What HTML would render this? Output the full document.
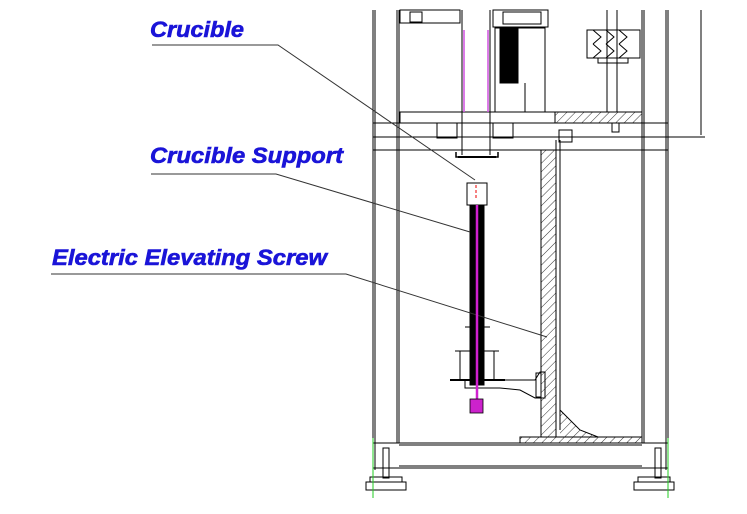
<!DOCTYPE html>
<html><head><meta charset="utf-8"><style>
html,body{margin:0;padding:0;background:#fff;}
svg{display:block;}
text{font-family:"Liberation Sans",Arial,sans-serif;font-weight:bold;font-style:italic;fill:#1a14d8;stroke:#1a14d8;stroke-width:0.6;font-size:22px;}
</style></head><body>
<svg width="747" height="514" viewBox="0 0 747 514" xmlns="http://www.w3.org/2000/svg">
<defs>
<pattern id="h" width="6" height="6" patternUnits="userSpaceOnUse" patternTransform="rotate(45)">
<line x1="0" y1="0" x2="0" y2="6" stroke="#000" stroke-width="0.8"/></pattern>
</defs>
<rect width="747" height="514" fill="#fff"/>
<g stroke="#000" fill="none" stroke-width="1">
<!-- posts -->
<line x1="373" y1="10" x2="373" y2="470"/><line x1="375" y1="10" x2="375" y2="470"/>
<line x1="397" y1="10" x2="397" y2="443"/><line x1="399" y1="10" x2="399" y2="443"/>
<line x1="642" y1="10" x2="642" y2="443"/><line x1="644" y1="10" x2="644" y2="443"/>
<line x1="666" y1="10" x2="666" y2="470"/><line x1="668" y1="10" x2="668" y2="470"/>
<!-- top beam -->
<line x1="373" y1="123" x2="668" y2="123"/><line x1="373" y1="137" x2="668" y2="137"/>
<line x1="373" y1="150" x2="668" y2="150"/>
<line x1="668" y1="137" x2="705" y2="137"/>
<line x1="701" y1="10" x2="701" y2="135"/>
<!-- plate -->
<rect x="400" y="112" width="242" height="11"/>
<rect x="555" y="112" width="87" height="11" fill="url(#h)"/>
<rect x="437" y="123" width="20" height="15"/><rect x="493" y="123" width="20" height="15"/>
<rect x="612" y="123" width="7" height="9"/>
<!-- crucible shaft -->
<line x1="462" y1="10" x2="462" y2="155"/><line x1="490" y1="10" x2="490" y2="155"/>
<path d="M456 152 L456 157 L498 157 L498 152" stroke-width="1.5"/>
<line x1="458" y1="157" x2="496" y2="157" stroke-width="2"/>
<rect x="400" y="10" width="60" height="13"/>
<rect x="410" y="12" width="12" height="10"/>
<rect x="493" y="10" width="55" height="17"/>
<rect x="503" y="12" width="38" height="12"/>
<rect x="500" y="28" width="18" height="55" fill="#000"/>
<rect x="495" y="28" width="50" height="84"/>
<line x1="525" y1="83" x2="525" y2="112"/>
<rect x="587" y="30" width="53" height="28"/>
<path d="M593 30 l8 7 -8 7 M593 44 l8 7 -8 7 M606 30 l8 7 -8 7 M606 44 l8 7 -8 7 M619 30 l8 7 -8 7 M619 44 l8 7 -8 7"/>
<rect x="598" y="58" width="30" height="5"/>
<line x1="607" y1="10" x2="607" y2="112"/><line x1="617" y1="10" x2="617" y2="112"/>
<rect x="559" y="130" width="13" height="12"/>
<!-- wall -->
<rect x="541" y="150" width="15" height="287" fill="url(#h)"/>
<line x1="556" y1="140" x2="556" y2="430"/><line x1="560" y1="140" x2="560" y2="430"/>
<path d="M560 410 L580 430 L598 437 L560 437" fill="url(#h)"/>
<rect x="520" y="437" width="122" height="6" fill="url(#h)"/>
<!-- bottom beam -->
<line x1="373" y1="443" x2="668" y2="443"/><line x1="399" y1="445" x2="642" y2="445"/>
<line x1="399" y1="466" x2="642" y2="466"/><line x1="373" y1="468" x2="668" y2="468"/>
<!-- feet -->
<rect x="383" y="448" width="6" height="30"/><rect x="655" y="448" width="6" height="30"/>
<rect x="370" y="477" width="32" height="5"/><rect x="366" y="482" width="40" height="8"/>
<rect x="638" y="477" width="32" height="5"/><rect x="634" y="482" width="40" height="8"/>
<!-- screw assembly -->
<rect x="467" y="183" width="20" height="22"/>
<rect x="470" y="205" width="14" height="180" fill="#000"/>
<path d="M455 351 L460 351 L460 380 M499 351 L494 351 L494 380 M455 351 L499 351"/>
<line x1="450" y1="380" x2="505" y2="380" stroke-width="2"/>
<line x1="465" y1="327" x2="490" y2="327"/>
<path d="M465 380 L465 388 L500 388 M500 380 L535 380 L540 372 L545 372 L545 398 L535 398 L520 390 L500 388"/>
<rect x="536" y="373" width="5" height="24"/>
<!-- leaders -->
<g stroke="#333" stroke-width="1">
<polyline points="152,45 278,45 475,180"/>
<polyline points="151,174 276,174 470,232"/>
<polyline points="51,274 346,274 547,337"/>
</g>
</g>
<line x1="476" y1="185" x2="476" y2="200" stroke="#e00" stroke-width="1" stroke-dasharray="3,2"/>
<line x1="464" y1="30" x2="464" y2="112" stroke="#d050e0" stroke-width="1.5"/>
<line x1="488" y1="30" x2="488" y2="112" stroke="#d050e0" stroke-width="1.5"/>
<line x1="477" y1="205" x2="477" y2="400" stroke="#d020d0" stroke-width="2.5"/>
<rect x="470" y="399" width="13" height="14" fill="#cc22cc" stroke="#000" stroke-width="0.8"/>
<line x1="373" y1="438" x2="373" y2="498" stroke="#2c2" stroke-width="1"/>
<line x1="668" y1="438" x2="668" y2="498" stroke="#2c2" stroke-width="1"/>
<text x="150" y="37" textLength="94" lengthAdjust="spacingAndGlyphs">Crucible</text>
<text x="150" y="163" textLength="193" lengthAdjust="spacingAndGlyphs">Crucible Support</text>
<text x="52" y="265" textLength="275" lengthAdjust="spacingAndGlyphs">Electric Elevating Screw</text>
</svg>
</body></html>
